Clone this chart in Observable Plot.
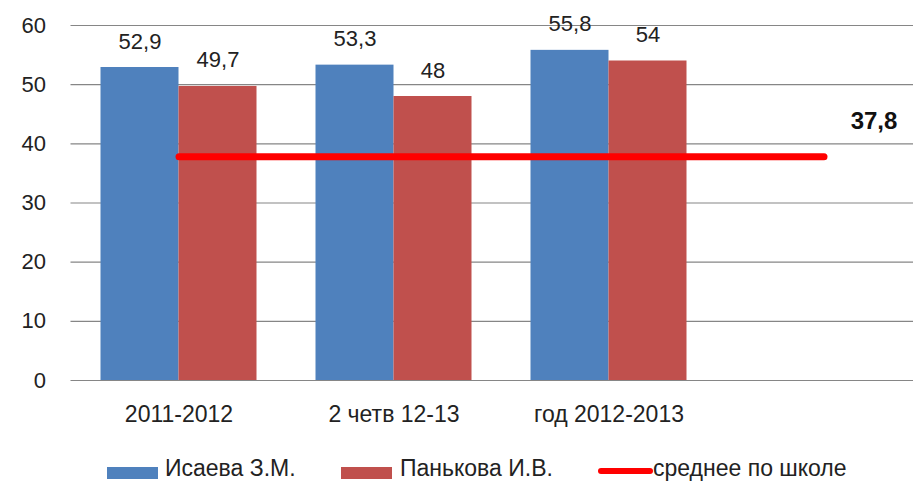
<!DOCTYPE html>
<html>
<head>
<meta charset="utf-8">
<script src="https://cdn.jsdelivr.net/npm/d3@7"></script>
<script src="https://cdn.jsdelivr.net/npm/@observablehq/plot@0.6"></script>
<style>
  html, body { margin: 0; padding: 0; background: #fff; }
  #wrap { position: relative; width: 913px; height: 483px; overflow: hidden; font-family: "Liberation Sans", Arial, sans-serif; color: #222; }
  #legend { position: absolute; left: 0; top: 440px; width: 913px; height: 43px; font-size: 23px; }
  .sw { position: absolute; }
  .lbl { position: absolute; top: 17px; line-height: 23px; white-space: nowrap; }
</style>
</head>
<body>
<div id="wrap">
  <div id="chart"></div>
  <div id="legend"></div>
</div>
<script>
const categories = ["2011-2012", "2 четв 12-13", "год 2012-2013", ""];
const isaeva = [52.9, 53.3, 55.8];
const pankova = [49.7, 48, 54];
const schoolAvg = [37.8, 37.8, 37.8, 37.8];
const yTicks = [0, 10, 20, 30, 40, 50, 60];
const seriesNames = ["Исаева З.М.", "Панькова И.В.", "среднее по школе"];
const colors = ["#4F81BD", "#C0504D", "#FF0000"];

const isaevaData = isaeva.map((v, i) => ({cat: categories[i], value: v}));
const pankovaData = pankova.map((v, i) => ({cat: categories[i], value: v}));
const avgData = schoolAvg.map((v, i) => ({cat: categories[i], value: v}));
const fmt = v => String(v).replace(".", ",");

const chart = Plot.plot({
  width: 913,
  height: 440,
  marginLeft: 70.5,
  marginRight: -17.5,
  marginTop: 25,
  marginBottom: 60,
  style: {fontFamily: "'Liberation Sans', Arial, sans-serif", fontSize: "22px", color: "#222", background: "transparent", overflow: "hidden"},
  x: {domain: categories, padding: 0, axis: null},
  y: {domain: [0, 60], axis: null},
  marks: [
    Plot.ruleY(yTicks, {stroke: "#868686", strokeWidth: 1.2}),
    Plot.axisY(yTicks, {tickSize: 0, tickPadding: 25, fontSize: 22, fill: "#222", label: null}),
    Plot.axisX({tickSize: 0, tickPadding: 25, fontSize: 23, fill: "#222", label: null}),
    Plot.barY(isaevaData, {x: "cat", y: "value", fill: colors[0], insetLeft: 29.5, insetRight: 107.5}),
    Plot.barY(pankovaData, {x: "cat", y: "value", fill: colors[1], insetLeft: 107.5, insetRight: 29.5}),
    Plot.text(isaevaData, {x: "cat", y: "value", text: d => fmt(d.value), dx: -39, dy: -26, fontSize: 22, fill: "#222"}),
    Plot.text(pankovaData, {x: "cat", y: "value", text: d => fmt(d.value), dx: 39, dy: -26, fontSize: 22, fill: "#222"}),
    Plot.line(avgData, {x: "cat", y: "value", stroke: colors[2], strokeWidth: 7, strokeLinecap: "round"}),
    Plot.text(avgData.slice(-1), {x: "cat", y: "value", text: d => fmt(d.value), dx: 50, dy: -36, fontSize: 24, fontWeight: "bold", fill: "#111"})
  ]
});
document.getElementById("chart").appendChild(chart);

// Legend
const legend = document.getElementById("legend");
const items = [
  {name: seriesNames[0], color: colors[0], type: "rect", left: 107, textLeft: 165},
  {name: seriesNames[1], color: colors[1], type: "rect", left: 341, textLeft: 400},
  {name: seriesNames[2], color: colors[2], type: "line", left: 598, textLeft: 653}
];
for (const it of items) {
  const sw = document.createElement("div");
  sw.className = "sw";
  sw.style.left = it.left + "px";
  sw.style.background = it.color;
  if (it.type === "rect") {
    sw.style.top = "27px"; sw.style.width = "51px"; sw.style.height = "12px";
  } else {
    sw.style.top = "28px"; sw.style.width = "55px"; sw.style.height = "6px"; sw.style.borderRadius = "3px";
  }
  legend.appendChild(sw);
  const lb = document.createElement("div");
  lb.className = "lbl";
  lb.style.left = it.textLeft + "px";
  lb.textContent = it.name;
  legend.appendChild(lb);
}
</script>
</body>
</html>
